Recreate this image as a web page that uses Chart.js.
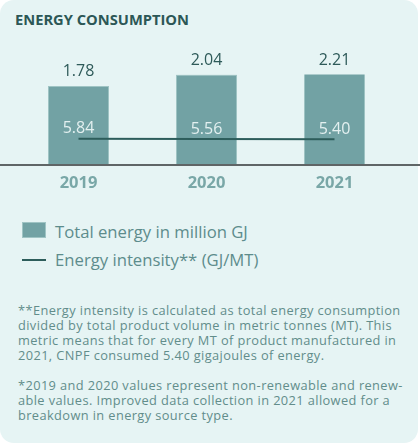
<!DOCTYPE html>
<html><head><meta charset="utf-8">
<script src="https://cdn.jsdelivr.net/npm/chart.js@4"></script>
<style>
html,body{margin:0;padding:0;background:#fff;width:420px;height:446px;overflow:hidden;font-family:'Open Sans',sans-serif}
#card{position:absolute;left:0;top:0;width:418px;height:443px;background:#e6f4f4;border-radius:14px}
#title{position:absolute;left:15px;top:9px;font-weight:700;font-size:14.7px;color:#2c5756;white-space:nowrap}
#chartWrap{position:absolute;left:0;top:40px;width:420px;height:160px}
#legend{position:absolute;left:22px;top:220px;color:#5d8c8c;font-size:16.7px}
.li{position:relative;height:28px;white-space:nowrap}
.sw{position:absolute;left:0;width:24px}
.lt{position:absolute;left:33px;top:0;line-height:24px}
#note{position:absolute;left:18px;top:303px;color:#628d8b;font-size:12.8px;letter-spacing:0.4px;line-height:15px;white-space:nowrap}
</style></head>
<body>
<div id="card"></div>
<div id="title">ENERGY CONSUMPTION</div>
<div id="chartWrap"><canvas id="c" width="420" height="160"></canvas></div>
<div id="legend"></div>
<div id="note">**Energy intensity is calculated as total energy consumption<br>divided by total product volume in metric tonnes (MT). This<br>metric means that for every MT of product manufactured in<br>2021, CNPF consumed 5.40 gigajoules of energy.<br><br>*2019 and 2020 values represent non-renewable and renew-<br>able values. Improved data collection in 2021 allowed for a<br>breakdown in energy source type.</div>
<script>
const years = ['2019', '2020', '2021'];
const totalEnergy = [1.78, 2.04, 2.21];
const energyIntensity = [5.84, 5.56, 5.40];
const seriesNames = ['Total energy in million GJ', 'Energy intensity** (GJ/MT)'];

const barColor = '#72a2a4';
const lineColor = '#2d5d5b';

const labelPlugin = {
  id: 'labels',
  afterDatasetsDraw(chart) {
    const ctx = chart.ctx;
    const ca = chart.chartArea;
    ctx.save();
    ctx.textAlign = 'center';
    ctx.textBaseline = 'middle';
    const barMeta = chart.getDatasetMeta(1);
    barMeta.data.forEach((el, i) => {
      const top = Math.max(el.y, ca.top);
      ctx.fillStyle = '#2e5a59';
      ctx.font = '16px "Open Sans"';
      ctx.fillText(totalEnergy[i].toFixed(2), el.x, top - 14);
    });
    const lineMeta = chart.getDatasetMeta(0);
    lineMeta.data.forEach((pt, i) => {
      ctx.fillStyle = '#e3f0f0';
      ctx.font = '16px "Open Sans"';
      ctx.fillText(energyIntensity[i].toFixed(2), barMeta.data[i].x, pt.y - 10);
    });
    ctx.restore();
  },
  afterDraw(chart) {
    const ctx = chart.ctx;
    const y = chart.chartArea.bottom;
    ctx.save();
    ctx.strokeStyle = '#5f6566';
    ctx.lineWidth = 2;
    ctx.beginPath();
    ctx.moveTo(0, y + 1);
    ctx.lineTo(chart.width, y + 1);
    ctx.stroke();
    ctx.restore();
  }
};

const chart = new Chart(document.getElementById('c'), {
  data: {
    labels: years,
    datasets: [
      {
        type: 'line', label: seriesNames[1], data: energyIntensity, yAxisID: 'y2',
        borderColor: lineColor, borderWidth: 2, pointRadius: 0, order: 0, tension: 0
      },
      {
        type: 'bar', label: seriesNames[0], data: totalEnergy, yAxisID: 'y',
        backgroundColor: barColor, borderColor: '#9fc4c4', borderWidth: 1,
        barPercentage: 0.8, categoryPercentage: 0.596, order: 1, clip: 0
      }
    ]
  },
  options: {
    responsive: false,
    animation: false,
    layout: { padding: { top: 34.5, left: 14.5, right: 21.5, bottom: 0 } },
    plugins: { legend: { display: false }, tooltip: { enabled: false } },
    scales: {
      x: {
        grid: { display: false, drawTicks: false },
        border: { display: false },
        ticks: { color: '#79a7a7', font: { family: 'Open Sans', size: 16.5, weight: 'bold' }, padding: 9 },
        afterFit(s) { s.height = 36; }
      },
      y: { display: false, min: 0, max: 2.04 },
      y2: { display: false, min: -19.5, max: 70.5 }
    }
  },
  plugins: [labelPlugin]
});

// HTML legend from datasets
const legend = document.getElementById('legend');
[1, 0].forEach((di) => {
  const ds = chart.data.datasets[di];
  const row = document.createElement('div');
  row.className = 'li';
  const sw = document.createElement('div');
  sw.className = 'sw';
  if (ds.type === 'bar') {
    sw.style.cssText = 'top:2px;height:16px;background:' + barColor + ';border:0.5px solid #9fc4c4;box-sizing:border-box';
  } else {
    sw.style.cssText = 'top:11px;height:2px;background:' + lineColor;
  }
  const t = document.createElement('div');
  t.className = 'lt';
  t.textContent = ds.label;
  row.appendChild(sw); row.appendChild(t);
  legend.appendChild(row);
});
</script>
</body></html>
